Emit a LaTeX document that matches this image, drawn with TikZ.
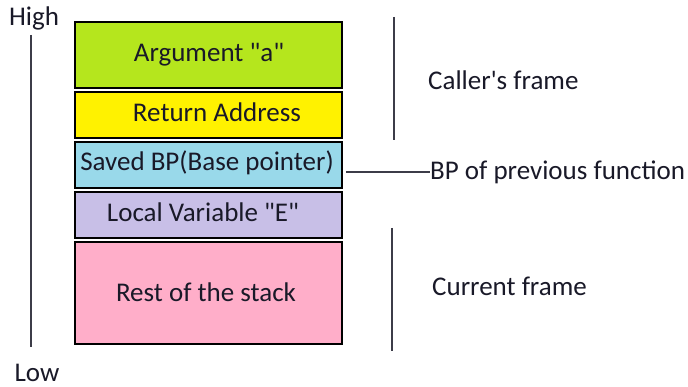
\documentclass[tikz,border=0pt]{standalone}
\usepackage{fontspec}
\setmainfont{Carlito}
\definecolor{cgreen}{RGB}{181,230,29}
\definecolor{cyellow}{RGB}{255,242,0}
\definecolor{cblue}{RGB}{153,217,234}
\definecolor{cpurple}{RGB}{200,191,231}
\definecolor{cpink}{RGB}{255,174,201}
\definecolor{ink}{RGB}{25,25,40}
\begin{document}
\begin{tikzpicture}[x=1pt,y=-1pt,
  cell/.style={draw=black,line width=1.6pt,minimum width=267pt,inner sep=0pt,
    font=\fontsize{27}{30}\selectfont,text=ink},
  lbl/.style={font=\fontsize{27}{30}\selectfont,text=ink,inner sep=0pt},
  rule/.style={draw=ink!85,line width=1.4pt}]
\useasboundingbox (0,0) rectangle (688,387);
% stack cells, top (high address) to bottom
\node[cell,fill=cgreen,minimum height=66pt] (arg) at (208.5,55) {};
\node[cell,fill=cyellow,minimum height=46pt] (ret) at (208.5,115) {};
\node[cell,fill=cblue,minimum height=46pt] (bp) at (208.5,165) {};
\node[cell,fill=cpurple,minimum height=46pt] (loc) at (208.5,215) {};
\node[cell,fill=cpink,minimum height=102pt] (rest) at (208.5,293) {};
\node[lbl] at (209,55) {Argument \textquotedbl a\textquotedbl};
\node[lbl] at (217,112) {Return Address};
\node[lbl] at (207,163) {Saved BP(Base pointer)};
\node[lbl] at (203,212) {Local Variable \textquotedbl E\textquotedbl};
\node[lbl] at (206,292) {Rest of the stack};
% address axis
\node[lbl] (high) at (34,18) {High};
\node[lbl] (low) at (37,373) {Low};
\coordinate (axtop) at (31,35);
\coordinate (axbot) at (31,347);
\draw[rule,line width=1.8pt] (axtop) -- (axbot);
% frame brackets
\coordinate (c1) at (394,17);
\coordinate (c2) at (394,140);
\draw[rule] (c1) -- (c2);
\node[lbl,anchor=west] (caller) at (428,80) {Caller\textquotesingle s frame};
\coordinate (f1) at (392,228);
\coordinate (f2) at (392,351);
\draw[rule] (f1) -- (f2);
\node[lbl,anchor=west] (cur) at (432,286) {Current frame};
% saved base pointer label
\node[lbl,anchor=west] (prev) at (430,172) {BP of previous function};
\draw[rule] (bp.east |- prev.west) ++(3,0) -- (prev.west);
\end{tikzpicture}
\end{document}
